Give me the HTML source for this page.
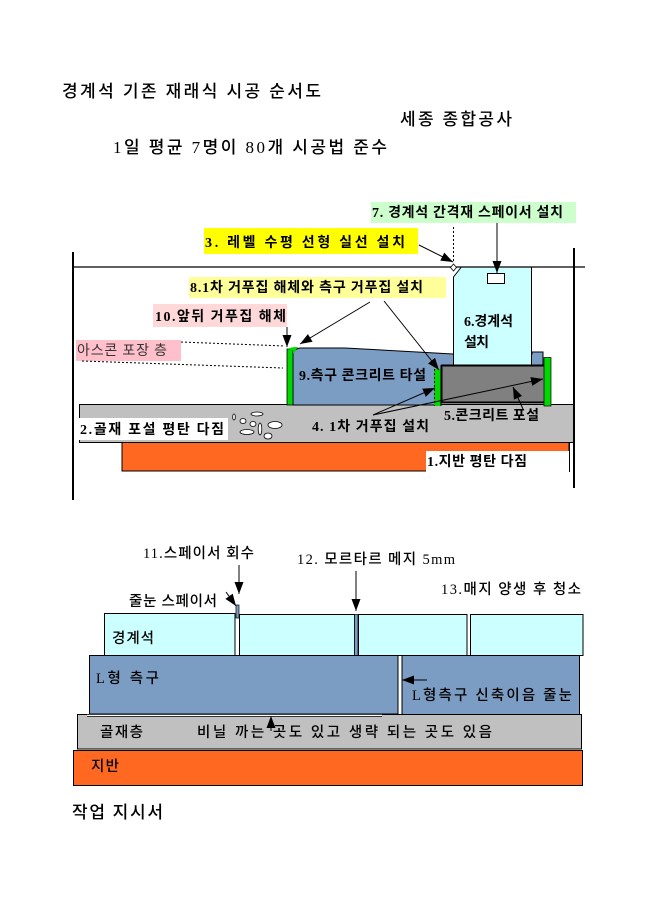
<!DOCTYPE html>
<html lang="ko"><head><meta charset="utf-8"><title>경계석 기존 재래식 시공 순서도</title>
<style>
html,body{margin:0;padding:0;background:#fff}
svg{display:block}
text{font-family:"Liberation Serif","Noto Sans CJK KR",sans-serif;fill:#000;font-size:14px;font-weight:700}
.n{font-weight:500;font-size:14.500px}
.t{font-size:17px;font-weight:500}
</style></head><body>
<svg xmlns="http://www.w3.org/2000/svg" width="645" height="912" viewBox="0 0 645 912">
<defs>
<marker id="a" markerUnits="userSpaceOnUse" markerWidth="14" markerHeight="10" refX="12" refY="4.500" orient="auto"><path d="M0 0L12 4.500L0 9Z" fill="#000"/></marker>
</defs>
<rect width="645" height="912" fill="#fff"/>

<!-- titles -->
<text class="t" x="62" y="97" textLength="259">경계석 기존 재래식 시공 순서도</text>
<text class="t" x="400" y="125" textLength="112">세종 종합공사</text>
<text class="t" x="113" y="153" textLength="274">1일 평균 7명이 80개 시공법 준수</text>

<!-- top label boxes -->
<rect x="371" y="202" width="205" height="21" fill="#ccffcc"/>
<rect x="204" y="228" width="214" height="26" fill="#ffff00"/>
<rect x="189" y="277" width="257" height="21" fill="#ffff99"/>
<rect x="153" y="304" width="134" height="23" fill="#ffd9d9"/>
<rect x="76" y="340" width="105" height="21" fill="#ffc0cb"/>

<!-- aggregate and ground -->
<rect x="122" y="442" width="447" height="29" fill="#ff6820" stroke="#000" stroke-width="1"/>
<rect x="426" y="451" width="143" height="22" fill="#fff"/>
<path d="M569.500 442V472" stroke="#000" fill="none"/>
<rect x="79.500" y="404.500" width="494" height="38" fill="#c0c0c0" stroke="#000"/>
<rect x="79" y="418" width="149" height="22" fill="#fff"/>

<!-- pebbles -->
<g fill="#fff" stroke="#000" stroke-width=".8">
<ellipse cx="234" cy="417" rx="1.300" ry="3"/><ellipse cx="257" cy="414" rx="6" ry="2"/>
<ellipse cx="243" cy="421" rx="3" ry="2.500"/><ellipse cx="253" cy="424" rx="3" ry="2.500"/>
<ellipse cx="275" cy="425" rx="7" ry="3.500"/><ellipse cx="247" cy="432" rx="7" ry="2.500"/>
<ellipse cx="260" cy="429" rx="1.800" ry="6"/><ellipse cx="268" cy="436" rx="4" ry="3"/>
</g>

<!-- gutter concrete -->
<path d="M293 405V354Q294 349 300 348L345 348L453 354H532V352H543V366H441V405Z" fill="#7c9dc3" stroke="#000" stroke-width="1"/>
<rect x="287" y="349" width="6" height="56" fill="#00d800" stroke="#000" stroke-width=".8"/>
<path d="M288 349Q290 347 298 347L293 354V350Z" fill="#00d800"/>
<rect x="441" y="365" width="103" height="38" fill="#808080"/>
<path d="M441 365.500H544M441 402.500H544M441.500 365V403" stroke="#000" stroke-width="2" fill="none"/>
<rect x="434" y="369" width="7" height="37" fill="#00d800"/>
<path d="M434.500 369V406" stroke="#000" stroke-dasharray="2 2" fill="none"/>
<path d="M441 369V406" stroke="#000" fill="none"/>
<rect x="544" y="357.500" width="7" height="48.500" fill="#00d800" stroke="#000" stroke-width=".7"/>

<!-- curb stone -->
<path d="M453 365V277L461 267H532V365Z" fill="#ccffff"/>
<path d="M453.500 365V277L461 267.500M531.500 267V365M453 365H532" stroke="#000" fill="none"/>
<rect x="487.500" y="273.500" width="17" height="10" fill="#fff" stroke="#000"/>

<!-- frame lines -->
<path d="M72 267H585" stroke="#000" stroke-width="1.200"/>
<path d="M73 252V500M574 248V488" stroke="#000" stroke-width="2"/>
<path d="M453.500 227V263" stroke="#000" stroke-dasharray="2 2" fill="none"/>
<path d="M453.500 264L456.500 267.500L453.500 271L450.500 267.500Z" fill="#fff" stroke="#000" stroke-width=".8"/>
<path d="M181 342L285 346M82 361L283 368" stroke="#000" stroke-dasharray="2 2" fill="none"/>

<!-- top arrows -->
<g stroke="#000" stroke-width="1" fill="none" marker-end="url(#a)">
<path d="M419 245L453 262"/>
<path d="M497 223V273"/>
<path d="M287 327V347"/>
<path d="M370 302L300 344"/>
<path d="M384 301L439 370"/>
<path d="M373 415L435 388"/>
<path d="M373 415L543 379"/>
<path d="M523 409L513 387"/>
</g>

<!-- top text -->
<text x="372" y="217" textLength="191">7. 경계석 간격재 스페이서 설치</text>
<text x="205" y="247" textLength="200">3. 레벨 수평 선형 실선 설치</text>
<text x="190" y="292" textLength="233">8.1차 거푸집 해체와 측구 거푸집 설치</text>
<text x="155" y="321" textLength="131">10.앞뒤 거푸집 해체</text>
<text x="77" y="355" textLength="90" style="font-weight:400;fill:#333">아스콘 포장 층</text>
<text x="464" y="326" textLength="49">6.경계석</text>
<text x="464" y="347" textLength="25">설치</text>
<text x="299" y="380" textLength="127">9.측구 콘크리트 타설</text>
<text x="444" y="420" textLength="95">5.콘크리트 포설</text>
<text x="312" y="431" textLength="117">4. 1차 거푸집 설치</text>
<text x="80" y="434" textLength="144">2.골재 포설 평탄 다짐</text>
<text x="427" y="466" textLength="100">1.지반 평탄 다짐</text>

<!-- lower: ground + gravel -->
<rect x="73.500" y="750.500" width="509" height="35" fill="#ff6820" stroke="#000"/>
<rect x="77.500" y="714.500" width="504" height="34.500" fill="#c0c0c0" stroke="#000"/>

<!-- stones -->
<g fill="#ccffff" stroke="#000">
<rect x="104.500" y="613.500" width="130.500" height="42"/>
<rect x="239.500" y="614.500" width="115" height="41"/>
<rect x="358.500" y="614.500" width="108.500" height="41"/>
<rect x="470.500" y="614.500" width="112.500" height="41"/>
</g>
<rect x="354.500" y="614.500" width="3.500" height="41" fill="#7c9dc3" stroke="#000" stroke-width=".7"/>
<rect x="236" y="605" width="3" height="13" fill="#7c9dc3" stroke="#000" stroke-width=".7"/>

<!-- L gutter -->
<path d="M89.500 655.500H398V714H89.500Z" fill="#7c9dc3" stroke="#000"/>
<path d="M402 655.500H579.500V714.500H402Z" fill="#7c9dc3" stroke="#000"/>
<path d="M87 715.500H382" stroke="#fff" stroke-width="1.500"/>
<path d="M87 716.500H382" stroke="#000" stroke-width=".8"/>

<!-- lower arrows -->
<g stroke="#000" stroke-width="1" fill="none" marker-end="url(#a)">
<path d="M239 565V594"/>
<path d="M356 571V611"/>
<path d="M226 592L236 606"/>
<path d="M427 680H402"/>
<path d="M271 731V716"/>
</g>

<!-- lower text -->
<text class="n" x="143" y="558" textLength="111">11.스페이서 회수</text>
<text class="n" x="297" y="564" textLength="158">12. 모르타르 메지 5mm</text>
<text class="n" x="441" y="594" textLength="140">13.매지 양생 후 청소</text>
<text class="n" x="129" y="606" textLength="88">줄눈 스페이서</text>
<text class="n" x="112" y="643" textLength="42">경계석</text>
<text class="n" x="96" y="683" textLength="63">L형 측구</text>
<text class="n" x="412" y="700" textLength="160">L형측구 신축이음 줄눈</text>
<text class="n" x="100" y="737" textLength="43">골재층</text>
<text class="n" x="197" y="737" textLength="295">비닐 까는 곳도 있고 생략 되는 곳도 있음</text>
<text class="n" x="91" y="771" textLength="28">지반</text>
<text class="t" x="72" y="818" textLength="91">작업 지시서</text>
</svg>
</body></html>
